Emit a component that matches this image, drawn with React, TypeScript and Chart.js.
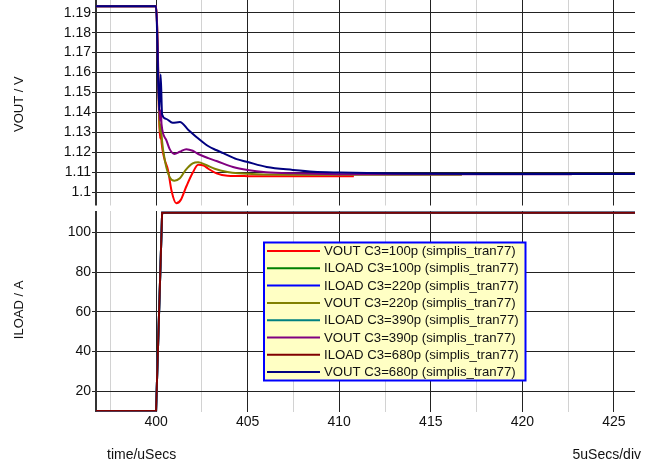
import React, { useEffect, useRef } from "react";
import { Chart, registerables } from "chart.js";

Chart.register(...registerables);

// ---- labels & colours ----
const seriesLabels = [
  "VOUT C3=100p (simplis_tran77)",
  "ILOAD C3=100p (simplis_tran77)",
  "ILOAD C3=220p (simplis_tran77)",
  "VOUT C3=220p (simplis_tran77)",
  "ILOAD C3=390p (simplis_tran77)",
  "VOUT C3=390p (simplis_tran77)",
  "ILOAD C3=680p (simplis_tran77)",
  "VOUT C3=680p (simplis_tran77)",
];
const seriesColors = ["#ff0000", "#008000", "#0000ff", "#808000", "#008080", "#800080", "#800000", "#000080"];

// ---- tick labels ----
const xGridTicks = [397.5, 400, 402.5, 405, 407.5, 410, 412.5, 415, 417.5, 420, 422.5, 425];
const xLabelTicks = [400, 405, 410, 415, 420, 425];
const voutTicks = [1.1, 1.11, 1.12, 1.13, 1.14, 1.15, 1.16, 1.17, 1.18, 1.19];
const iloadTicks = [20, 40, 60, 80, 100];
const xAxisCaption = "time/uSecs";
const xScaleCaption = "5uSecs/div";
const voutTitle = "VOUT / V";
const iloadTitle = "ILOAD / A";

// ---- series (time in uSecs) ----
const vout100Time = [396, 400.0, 400.22, 400.26, 400.3, 400.45, 400.65, 400.85, 401.1, 401.35, 401.65, 402.0, 402.3, 402.6, 402.85, 403.3, 403.9, 405, 407, 410.8];
const vout100Values = [1.1932, 1.1932, 1.127, 1.131, 1.125, 1.117, 1.1112, 1.1005, 1.0945, 1.0962, 1.1029, 1.1098, 1.1138, 1.1134, 1.1118, 1.1095, 1.1083, 1.1081, 1.108, 1.108];

const vout220Time = [396, 400.0, 400.22, 400.26, 400.3, 400.5, 400.75, 401.0, 401.3, 401.6, 402.0, 402.3, 402.7, 403.2, 403.9, 404.5, 405.5, 408, 416.7];
const vout220Values = [1.1932, 1.1932, 1.13, 1.134, 1.128, 1.115, 1.1075, 1.1058, 1.107, 1.111, 1.1145, 1.115, 1.1138, 1.1118, 1.1102, 1.1095, 1.109, 1.1088, 1.1088];

const vout390Time = [396, 400.0, 400.22, 400.26, 400.3, 400.56, 400.75, 401.0, 401.3, 401.65, 402.0, 402.3, 402.85, 403.3, 404.2, 405, 406, 407.5, 410, 415, 422.7];
const vout390Values = [1.1932, 1.1932, 1.136, 1.141, 1.134, 1.1262, 1.1215, 1.1192, 1.1203, 1.1216, 1.1208, 1.1192, 1.1171, 1.1157, 1.1127, 1.1112, 1.1101, 1.1095, 1.1091, 1.109, 1.109];

const vout680Time = [396, 400.0, 400.17, 400.25, 400.33, 400.55, 400.9, 401.3, 401.75, 402.29, 402.84, 403.27, 403.67, 404.4, 404.95, 406.04, 407.47, 408.6, 410.04, 413, 418, 427];
const vout680Values = [1.1932, 1.1932, 1.141, 1.159, 1.139, 1.1368, 1.1348, 1.1352, 1.1314, 1.1271, 1.1232, 1.1212, 1.1196, 1.1166, 1.1153, 1.1127, 1.1112, 1.1103, 1.1099, 1.1094, 1.1092, 1.1092];

const iloadTime = [396, 400.0, 400.33, 427];
const iloadValues = [10, 10, 110, 110];

const FONT = '"Liberation Sans", Arial, sans-serif';

const gapPlugin = {
  id: "panelGap",
  beforeDatasetsDraw(chart: any) {
    const { ctx } = chart;
    const yb = chart.scales.yv.bottom;
    ctx.save();
    ctx.fillStyle = "#ffffff";
    ctx.fillRect(0, yb - 2.75, chart.width, 5.5);
    ctx.restore();
  },
};

const legendPlugin = {
  id: "boxLegend",
  afterDatasetsDraw(chart: any) {
    const { ctx } = chart;
    const x0 = 264, y0 = 242.5, w = 261.5, h = 138;
    ctx.save();
    ctx.fillStyle = "#ffffc4";
    ctx.fillRect(x0, y0, w, h);
    ctx.strokeStyle = "#0000ff";
    ctx.lineWidth = 2;
    ctx.strokeRect(x0, y0, w, h);
    ctx.font = `13.2px ${FONT}`;
    ctx.textBaseline = "middle";
    ctx.textAlign = "left";
    chart.data.datasets.forEach((d: any, i: number) => {
      const y = 251 + i * 17.3;
      ctx.strokeStyle = d.borderColor;
      ctx.lineWidth = 2;
      ctx.beginPath();
      ctx.moveTo(267, y);
      ctx.lineTo(320, y);
      ctx.stroke();
      ctx.fillStyle = "#111";
      ctx.fillText(d.label, 324, y + 0.5);
    });
    ctx.restore();
  },
};

const captionPlugin = {
  id: "captions",
  afterDraw(chart: any) {
    const { ctx } = chart;
    ctx.save();
    ctx.font = `14px ${FONT}`;
    ctx.fillStyle = "#111";
    ctx.textBaseline = "middle";
    ctx.textAlign = "left";
    ctx.fillText(xAxisCaption, 107, 455.5);
    ctx.textAlign = "right";
    ctx.fillText(xScaleCaption, 641, 455.5);
    ctx.restore();
  },
};

export default function App() {
  const ref = useRef<HTMLCanvasElement>(null);
  useEffect(() => {
    const canvas = ref.current!;
    const mk = (i: number, t: number[], v: number[], axis: string, smooth: boolean) => ({
      label: seriesLabels[i],
      data: t.map((x, k) => ({ x, y: v[k] })),
      borderColor: seriesColors[i],
      backgroundColor: seriesColors[i],
      borderWidth: 2,
      pointRadius: 0,
      fill: false,
      yAxisID: axis,
      order: 8 - i,
      tension: 0,
      cubicInterpolationMode: smooth ? "monotone" : "default",
    });
    const datasets = [
      mk(0, vout100Time, vout100Values, "yv", true),
      mk(1, iloadTime, iloadValues, "yi", false),
      mk(2, iloadTime, iloadValues, "yi", false),
      mk(3, vout220Time, vout220Values, "yv", true),
      mk(4, iloadTime, iloadValues, "yi", false),
      mk(5, vout390Time, vout390Values, "yv", true),
      mk(6, iloadTime, iloadValues, "yi", false),
      mk(7, vout680Time, vout680Values, "yv", true),
    ];
    const yCommon = (ticks: number[]) => ({
      type: "linear" as const,
      position: "left" as const,
      stack: "panels",
      afterBuildTicks: (s: any) => {
        s.ticks = ticks.map((value) => ({ value }));
      },
      afterFit: (s: any) => {
        s.width = 96;
        s.paddingTop = 0;
        s.paddingBottom = 0;
      },
      grid: { color: "#222", lineWidth: 1, tickLength: 4, drawTicks: true },
      border: { display: true, color: "#333", width: 2 },
      ticks: {
        padding: 1,
        color: "#111",
        font: { family: FONT, size: 14 },
        autoSkip: false,
        callback: (v: any) => String(v),
      },
    });
    const chart = new Chart(canvas, {
      type: "line",
      data: { datasets: datasets as any },
      plugins: [gapPlugin, legendPlugin, captionPlugin],
      options: {
        animation: false,
        responsive: false,
        events: [],
        layout: { padding: { left: 0, top: 0, right: 11, bottom: 0 } },
        plugins: { legend: { display: false }, tooltip: { enabled: false } },
        scales: {
          x: {
            type: "linear",
            min: 396.72,
            max: 426.15,
            afterBuildTicks: (s: any) => {
              s.ticks = xGridTicks.map((value) => ({ value }));
            },
            afterFit: (s: any) => {
              s.height = 52.5;
              s.paddingLeft = 0;
              s.paddingRight = 0;
            },
            grid: {
              color: (c: any) => (c.tick && xLabelTicks.includes(c.tick.value) ? "#222" : "#d2d2d2"),
              lineWidth: 1,
              drawTicks: false,
            },
            border: { display: false },
            ticks: {
              padding: 2,
              color: "#111",
              font: { family: FONT, size: 14 },
              maxRotation: 0,
              autoSkip: false,
              callback: (v: any) => (xLabelTicks.includes(v) ? String(v) : ""),
            },
          },
          yi: {
            ...yCommon(iloadTicks),
            stackWeight: 203.25,
            min: 9.8,
            max: 112.22,
            title: { display: true, text: iloadTitle, color: "#111", font: { family: FONT, size: 13 }, padding: { top: 12, bottom: 0 } },
          },
          yv: {
            ...yCommon(voutTicks),
            stackWeight: 208.25,
            min: 1.092009,
            max: 1.196363,
            title: { display: true, text: voutTitle, color: "#111", font: { family: FONT, size: 13 }, padding: { top: 12, bottom: 0 } },
          },
        } as any,
      },
    });
    return () => chart.destroy();
  }, []);
  return (
    <div style={{ position: "fixed", left: 0, top: 0, width: 646, height: 464, background: "#fff" }}>
      <canvas ref={ref} width={646} height={464} style={{ width: 646, height: 464, display: "block" }} />
    </div>
  );
}
